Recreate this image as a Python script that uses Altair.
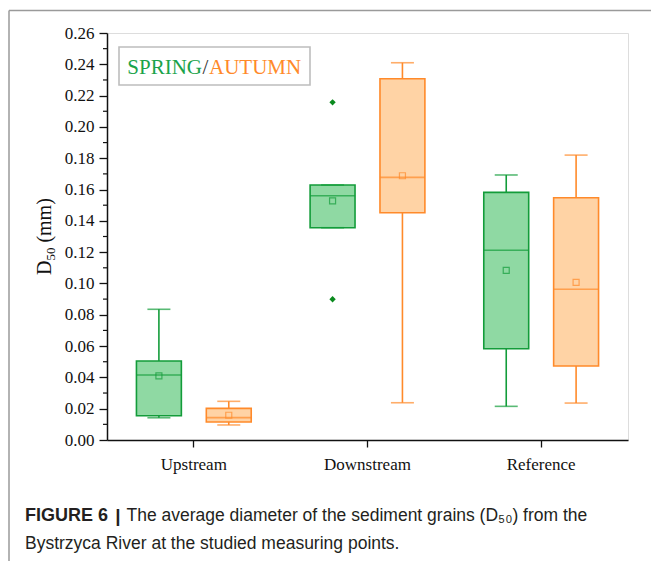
import altair as alt
import pandas as pd

# ---- data ----
sites = ["Upstream", "Downstream", "Reference"]
seasons = ["SPRING", "AUTUMN"]
box_site = ["Upstream", "Upstream", "Downstream", "Downstream", "Reference", "Reference"]
box_season = ["SPRING", "AUTUMN", "SPRING", "AUTUMN", "SPRING", "AUTUMN"]
whisker_low = [0.0142, 0.0096, 0.1356, 0.0238, 0.0215, 0.0236]
q1 = [0.0155, 0.0115, 0.1356, 0.1452, 0.0583, 0.0473]
median = [0.0415, 0.0143, 0.1560, 0.1678, 0.1212, 0.0963]
q3 = [0.0505, 0.0202, 0.1629, 0.2308, 0.1582, 0.1548]
whisker_high = [0.0835, 0.0247, 0.1629, 0.2410, 0.1693, 0.1820]
mean = [0.0410, 0.0158, 0.1527, 0.1688, 0.1084, 0.1007]
outlier_site = ["Downstream", "Downstream"]
outlier_season = ["SPRING", "SPRING"]
outlier_value = [0.2157, 0.0899]
major_ticks = [0.00, 0.02, 0.04, 0.06, 0.08, 0.10, 0.12, 0.14, 0.16, 0.18, 0.20, 0.22, 0.24, 0.26]
minor_ticks = [0.01, 0.03, 0.05, 0.07, 0.09, 0.11, 0.13, 0.15, 0.17, 0.19, 0.21, 0.23, 0.25]

box_df = pd.DataFrame({
    "site": box_site, "season": box_season, "wlo": whisker_low, "q1": q1,
    "median": median, "q3": q3, "whi": whisker_high, "mean": mean,
})
out_df = pd.DataFrame({"site": outlier_site, "season": outlier_season, "value": outlier_value})
minor_df = pd.DataFrame({"v": minor_ticks})
one = pd.DataFrame({"a": [0]})

GREEN = "#139c3a"
ORANGE = "#ff8a2a"
GREEN_FILL = "#8fd9a3"
ORANGE_FILL = "#ffd3a5"
SERIF = "Liberation Serif"
SANS = "Liberation Sans"
INK = "#111111"
CAP_INK = "#231f20"

xenc = alt.X("site:N", scale=alt.Scale(domain=sites, paddingInner=0, paddingOuter=0),
             axis=alt.Axis(title=None, labelFont=SERIF, labelFontSize=17, labelColor=INK,
                           labelAngle=0, tickSize=7, tickColor=INK, tickWidth=1.3,
                           domainColor=INK, domainWidth=1.5, labelPadding=9))
xoff = alt.XOffset("season:N", scale=alt.Scale(domain=seasons, paddingInner=0.357, paddingOuter=0.4214))
yaxis = alt.Axis(values=major_ticks, format=".2f", title=None,
                 labelFont=SERIF, labelFontSize=17, labelColor=INK, labelPadding=5,
                 tickSize=8, tickColor=INK, tickWidth=1.3, domainColor=INK, domainWidth=1.5,
                 grid=False)
yscale = alt.Scale(domain=[0, 0.26], nice=False, zero=True)
line_color = alt.Color("season:N", scale=alt.Scale(domain=seasons, range=[GREEN, ORANGE]), legend=None)

base = alt.Chart(box_df)

boxes = base.mark_bar(strokeWidth=1.6).encode(
    x=xenc, xOffset=xoff,
    y=alt.Y("q1:Q", scale=yscale, axis=yaxis), y2="q3:Q",
    fill=alt.Fill("season:N", scale=alt.Scale(domain=seasons, range=[GREEN_FILL, ORANGE_FILL]), legend=None),
    stroke=alt.Stroke("season:N", scale=alt.Scale(domain=seasons, range=[GREEN, ORANGE]), legend=None),
)
w_hi = base.mark_rule(strokeWidth=1.6).encode(
    x=xenc, xOffset=xoff, y=alt.Y("q3:Q", scale=yscale, axis=yaxis), y2="whi:Q", color=line_color)
w_lo = base.mark_rule(strokeWidth=1.6).encode(
    x=xenc, xOffset=xoff, y=alt.Y("wlo:Q", scale=yscale, axis=yaxis), y2="q1:Q", color=line_color)
cap_hi = base.mark_tick(size=23, thickness=1.6).encode(
    x=xenc, xOffset=xoff, y=alt.Y("whi:Q", scale=yscale, axis=yaxis), color=line_color)
cap_lo = base.mark_tick(size=23, thickness=1.6).encode(
    x=xenc, xOffset=xoff, y=alt.Y("wlo:Q", scale=yscale, axis=yaxis), color=line_color)
med = base.mark_tick(size=45, thickness=1.6).encode(
    x=xenc, xOffset=xoff, y=alt.Y("median:Q", scale=yscale, axis=yaxis), color=line_color)
means = base.mark_point(shape="square", filled=False, size=36, strokeWidth=1.2).encode(
    x=xenc, xOffset=xoff, y=alt.Y("mean:Q", scale=yscale, axis=yaxis), color=line_color)
outliers = alt.Chart(out_df).mark_point(shape="diamond", filled=True, size=40, color="#0a8a1e", opacity=1).encode(
    x=xenc, xOffset=xoff, y=alt.Y("value:Q", scale=yscale, axis=yaxis))
minor = alt.Chart(minor_df).mark_rule(color=INK, strokeWidth=1.2).encode(
    y=alt.Y("v:Q", scale=yscale, axis=yaxis), x=alt.value(-4), x2=alt.value(0))

# y-axis title "D50 (mm)" with a real subscript, rotated
t_d = alt.Chart(one).mark_text(text="D", font=SERIF, fontSize=20, color=INK, angle=270,
                               align="left", baseline="alphabetic").encode(
    x=alt.value(-56), y=alt.value(242))
t_50 = alt.Chart(one).mark_text(text="50", font=SERIF, fontSize=13, color=INK, angle=270,
                                align="left", baseline="alphabetic").encode(
    x=alt.value(-52), y=alt.value(227.6))
t_mm = alt.Chart(one).mark_text(text="(mm)", font=SERIF, fontSize=20, color=INK, angle=270,
                                align="left", baseline="alphabetic").encode(
    x=alt.value(-56), y=alt.value(209.6))

# legend box
leg_box = alt.Chart(one).mark_rect(fill="white", stroke="#bdbdbd", strokeWidth=1.6).encode(
    x=alt.value(12), x2=alt.value(203), y=alt.value(14), y2=alt.value(52))
leg_spring = alt.Chart(one).mark_text(text="SPRING", font=SERIF, fontSize=21, color="#1aa34a",
                                      align="right", baseline="alphabetic").encode(
    x=alt.value(95), y=alt.value(41))
leg_slash = alt.Chart(one).mark_text(text="/", font=SERIF, fontSize=21, color="#333333",
                                     align="center", baseline="alphabetic").encode(
    x=alt.value(98.5), y=alt.value(41))
leg_autumn = alt.Chart(one).mark_text(text="AUTUMN", font=SERIF, fontSize=21, color=ORANGE,
                                      align="left", baseline="alphabetic").encode(
    x=alt.value(102), y=alt.value(41))

# outer figure frame
frame_left = alt.Chart(one).mark_rule(color="#9a9a9a", strokeWidth=1.5).encode(
    x=alt.value(-98), y=alt.value(-22.5), y2=alt.value(530))
frame_top = alt.Chart(one).mark_rule(color="#9a9a9a", strokeWidth=1.5).encode(
    x=alt.value(-98), x2=alt.value(546), y=alt.value(-22.5))

# caption
cap1_bold = alt.Chart(one).mark_text(text="FIGURE 6", font=SANS, fontSize=18, fontWeight="bold",
                                     color=CAP_INK, align="left", baseline="alphabetic").encode(
    x=alt.value(-82), y=alt.value(488))
cap1_bar = alt.Chart(one).mark_text(text="|", font=SANS, fontSize=19, fontWeight="bold",
                                    color=CAP_INK, align="center", baseline="alphabetic").encode(
    x=alt.value(11), y=alt.value(489))
cap1 = alt.Chart(one).mark_text(text="The average diameter of the sediment grains (D₅₀) from the",
                                font=SANS, fontSize=17.5, color=CAP_INK, align="left",
                                baseline="alphabetic").encode(
    x=alt.value(19.5), y=alt.value(488))
cap2 = alt.Chart(one).mark_text(text="Bystrzyca River at the studied measuring points.",
                                font=SANS, fontSize=17.5, color=CAP_INK, align="left",
                                baseline="alphabetic").encode(
    x=alt.value(-82), y=alt.value(516))

chart = alt.layer(
    frame_left, frame_top, leg_box, leg_spring, leg_slash, leg_autumn,
    boxes, w_hi, w_lo, cap_hi, cap_lo, med, means, outliers, minor,
    t_d, t_50, t_mm, cap1_bold, cap1_bar, cap1, cap2,
).properties(
    width=521, height=407,
    autosize=alt.AutoSizeParams(type="none"),
    padding={"left": 107, "top": 33, "right": 23, "bottom": 121},
).configure_view(stroke=INK, strokeWidth=1.5).configure(background="white")

chart.save("out.html", embed_options={"renderer": "svg", "actions": False})
